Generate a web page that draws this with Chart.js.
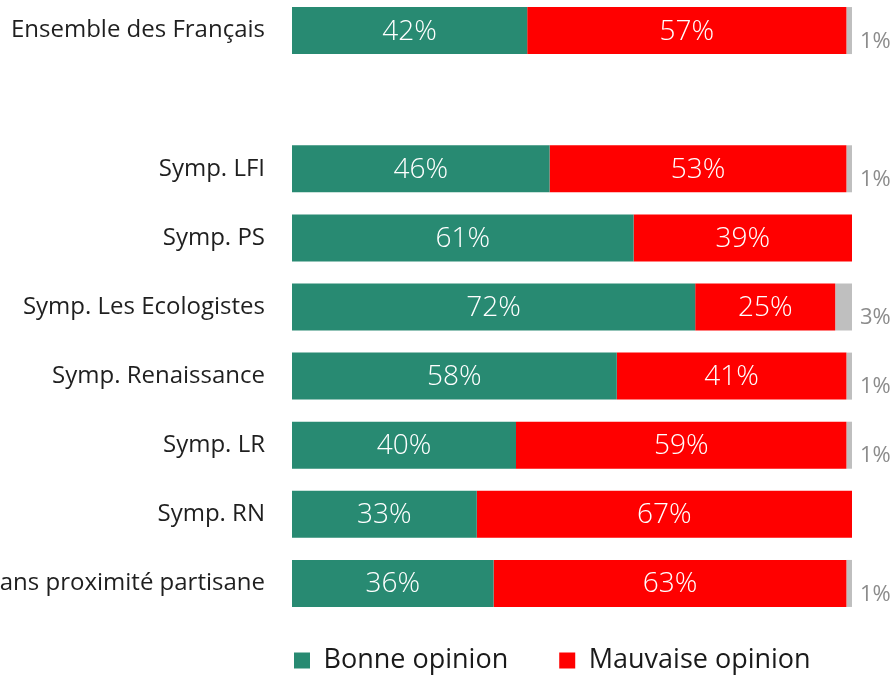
<!DOCTYPE html>
<html>
<head>
<meta charset="utf-8">
<script src="https://cdn.jsdelivr.net/npm/chart.js@4/dist/chart.umd.min.js"></script>
<style>
  html, body { margin: 0; padding: 0; background: #ffffff; overflow: hidden; }
  #wrap { position: absolute; left: 0; top: -4px; width: 894px; height: 680px; }
</style>
</head>
<body>
<div id="wrap"><canvas id="c"></canvas></div>
<script>
const categories = ['Ensemble des Français', '', 'Symp. LFI', 'Symp. PS', 'Symp. Les Ecologistes', 'Symp. Renaissance', 'Symp. LR', 'Symp. RN', 'Sans proximité partisane'];
const bonneOpinion    = [42, null, 46, 61, 72, 58, 40, 33, 36];
const mauvaiseOpinion = [57, null, 53, 39, 25, 41, 59, 67, 63];
const nsp             = [1,  null, 1,  0,  3,  1,  1,  0,  1];
const seriesNames = ['Bonne opinion', 'Mauvaise opinion', 'NSP'];

const labelPlugin = {
  id: 'valueLabels',
  afterDatasetsDraw(chart) {
    const ctx = chart.ctx;
    chart.data.datasets.forEach((ds, di) => {
      const meta = chart.getDatasetMeta(di);
      meta.data.forEach((el, i) => {
        const v = ds.data[i];
        if (v === null || v === 0) return;
        ctx.save();
        if (di < 2) {
          ctx.font = '300 28px "Open Sans"';
          ctx.fillStyle = '#ffffff';
          ctx.textAlign = 'center';
          ctx.textBaseline = 'middle';
          ctx.fillText(v + '%', (el.x + el.base) / 2, el.y + 1);
        } else {
          ctx.font = '400 22px "Open Sans"';
          ctx.fillStyle = '#8c8c8c';
          ctx.textAlign = 'left';
          ctx.textBaseline = 'middle';
          ctx.fillText(v + '%', el.x + 8, el.y + 11);
        }
        ctx.restore();
      });
    });
  }
};

const legendPlace = {
  id: 'legendPlace',
  afterLayout(chart) {
    const lg = chart.legend;
    if (!lg) return;
    lg.left = 243;
    lg.right = 894;
    lg.top = 600;
  }
};

new Chart(document.getElementById('c'), {
  type: 'bar',
  data: {
    labels: categories,
    datasets: [
      { label: seriesNames[0], data: bonneOpinion, backgroundColor: '#288A72' },
      { label: seriesNames[1], data: mauvaiseOpinion, backgroundColor: '#FF0000' },
      { label: seriesNames[2], data: nsp, backgroundColor: '#BFBFBF' }
    ]
  },
  options: {
    indexAxis: 'y',
    responsive: true,
    maintainAspectRatio: false,
    animation: false,
    datasets: { bar: { categoryPercentage: 1, barPercentage: 0.68, borderWidth: 0 } },
    layout: { padding: { left: 0, right: 42, top: 0, bottom: 0 } },
    scales: {
      x: { stacked: true, min: 0, max: 100, display: false },
      y: {
        stacked: true,
        grid: { display: false, drawTicks: false },
        border: { display: false },
        afterFit(scale) {
          scale.width = 292;
          scale.paddingTop = 0;
          scale.paddingBottom = 0;
          scale.paddingLeft = 0;
          scale.paddingRight = 0;
        },
        ticks: {
          color: '#1f1f1f',
          padding: 27,
          font: { family: 'Open Sans', size: 24 }
        }
      }
    },
    plugins: {
      tooltip: { enabled: false },
      legend: {
        position: 'bottom',
        align: 'start',
        maxHeight: 58,
        labels: {
          filter: (item) => item.datasetIndex < 2,
          boxWidth: 16,
          boxHeight: 16,
          padding: 51,
          color: '#1a1a1a',
          font: { family: 'Open Sans', size: 27 }
        }
      }
    }
  },
  plugins: [labelPlugin, legendPlace]
});
</script>
</body>
</html>
